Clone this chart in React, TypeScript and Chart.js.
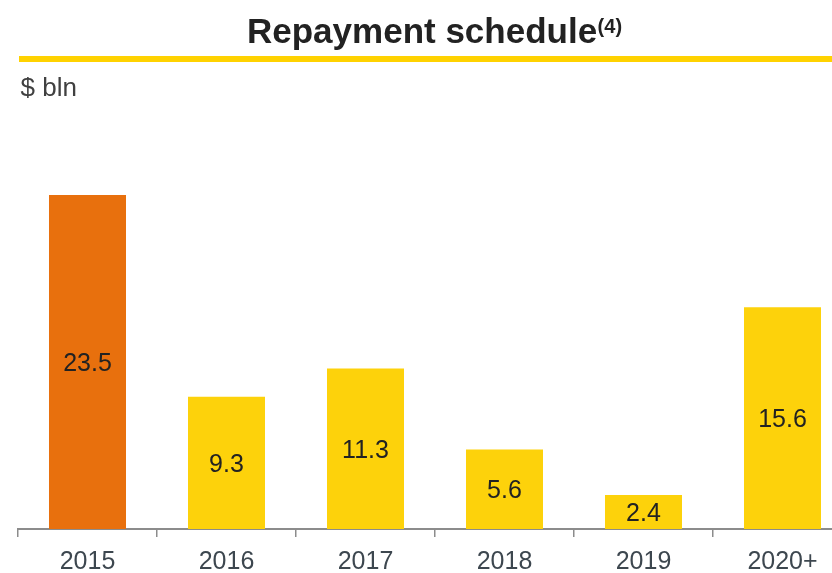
import React, { useEffect, useRef } from "react";
import { Chart, registerables } from "chart.js";

Chart.register(...registerables);

const categories = ["2015", "2016", "2017", "2018", "2019", "2020+"];
const repayments = [23.5, 9.3, 11.3, 5.6, 2.4, 15.6];
const barColors = ["#E8700D", "#FDD20B", "#FDD20B", "#FDD20B", "#FDD20B", "#FDD20B"];
const titleText = "Repayment schedule";
const titleNote = "(4)";
const unitText = "$ bln";

const FONT = "'Liberation Sans', Arial, sans-serif";

const headerPlugin = {
  id: "header",
  beforeDraw(chart: any) {
    const ctx = chart.ctx;
    ctx.save();
    ctx.fillStyle = "#FFD200";
    ctx.fillRect(19, 56, chart.width, 6);
    ctx.textBaseline = "alphabetic";
    ctx.textAlign = "left";
    ctx.fillStyle = "#222222";
    ctx.font = `bold 35px ${FONT}`;
    ctx.fillText(titleText, 247, 42.5);
    const w = ctx.measureText(titleText).width;
    ctx.font = `bold 20px ${FONT}`;
    ctx.fillText(titleNote, 247 + w + 0.5, 32.5);
    ctx.fillStyle = "#404040";
    ctx.font = `26px ${FONT}`;
    ctx.fillText(unitText, 20.5, 96);
    ctx.restore();
  },
};

const valueLabelPlugin = {
  id: "valueLabels",
  afterDatasetsDraw(chart: any) {
    const ctx = chart.ctx;
    const meta = chart.getDatasetMeta(0);
    const data = chart.data.datasets[0].data as number[];
    ctx.save();
    ctx.fillStyle = "#222222";
    ctx.font = `25px ${FONT}`;
    ctx.textAlign = "center";
    ctx.textBaseline = "middle";
    meta.data.forEach((el: any, i: number) => {
      const y = (el.y + el.base) / 2 + 2;
      ctx.fillText(data[i].toFixed(1), el.x, y);
    });
    ctx.restore();
  },
};

export default function App() {
  const ref = useRef<HTMLCanvasElement | null>(null);
  useEffect(() => {
    if (!ref.current) return;
    const chart = new Chart(ref.current, {
      type: "bar",
      data: {
        labels: categories,
        datasets: [
          {
            data: repayments,
            backgroundColor: barColors,
            borderWidth: 0,
            barPercentage: 0.554,
            categoryPercentage: 1,
          },
        ],
      },
      options: {
        animation: false,
        responsive: false,
        maintainAspectRatio: false,
        devicePixelRatio: 1,
        layout: { padding: { top: 102.6, left: 18, right: 8, bottom: 0 } },
        plugins: {
          legend: { display: false },
          tooltip: { enabled: false },
          title: { display: false },
        },
        scales: {
          x: {
            offset: true,
            grid: {
              display: true,
              drawOnChartArea: false,
              drawTicks: true,
              tickLength: 8,
              color: "#8c8c8c",
              lineWidth: 1.5,
              offset: true,
            },
            border: { display: true, color: "#8c8c8c", width: 2 },
            ticks: {
              color: "#3d474f",
              font: { family: FONT, size: 25 },
              padding: 10.5,
              maxRotation: 0,
              autoSkip: false,
            },
            afterFit: (scale: any) => {
              scale.height = 44;
            },
          },
          y: {
            display: false,
            min: 0,
            max: 30,
          },
        },
      },
      plugins: [headerPlugin, valueLabelPlugin],
    });
    return () => chart.destroy();
  }, []);

  return (
    <div
      style={{
        position: "absolute",
        left: 0,
        top: 0,
        width: 832,
        height: 573,
        overflow: "hidden",
        background: "#ffffff",
      }}
    >
      <canvas ref={ref} width={860} height={573} style={{ display: "block" }} />
    </div>
  );
}
